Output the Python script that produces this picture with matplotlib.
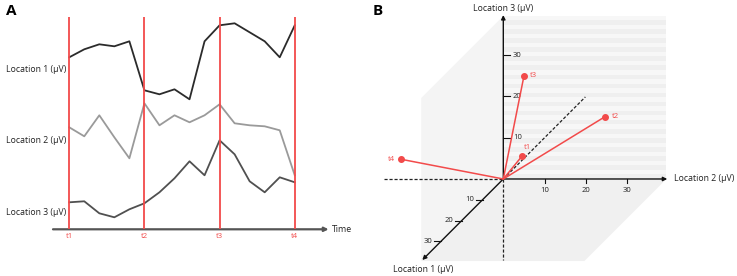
import matplotlib
matplotlib.use("Agg")
import matplotlib.pyplot as plt
import numpy as np

plt.rcParams['font.family'] = ['Open Sans', 'DejaVu Sans']

# ---------------- data ----------------
time_idx = list(range(16))
loc1 = [12, 20, 25, 23, 28, -21, -25, -20, -30, 28, 44, 46, 37, 28, 12, 44]
loc2 = [13, 4, 25, 3, -18, 37, 15, 25, 18, 25, 36, 17, 15, 14, 10, -35]
loc3 = [10, 11, -1, -5, 3, 9, 20, 34, 51, 37, 72, 58, 31, 20, 35, 30]
trace_labels = ["Location 1 (μV)", "Location 2 (μV)", "Location 3 (μV)"]
trace_offsets = [160, 89, 17]
t_names = ["t1", "t2", "t3", "t4"]
t_index = [0, 5, 10, 15]

# 3D state vectors (Location 1, Location 2, Location 3) in μV
pts_l1 = [-5, -5, -5, 5]
pts_l2 = [2, 22, 2.5, -22.3]
pts_l3 = [3, 12.5, 22.5, 7.3]
axis_ticks = [10, 20, 30]

RED = "#f24a4a"

fig = plt.figure(figsize=(7.37, 2.76), dpi=100)
W, H = 737, 276

# ---------------- Panel A ----------------
axA = fig.add_axes([53 / W, 46.7 / H, 278 / W, (229.3 - 17) / H])
axA.set_xlim(-1.08, 17.41)
axA.set_ylim(0, 212.3)
axA.axis('off')

colors = ["#2b2b2b", "#9a9a9a", "#505050"]
for vals, off, c in zip([loc1, loc2, loc3], trace_offsets, colors):
    axA.plot(time_idx, np.array(vals) + off, color=c, lw=1.3, zorder=3)

for name, ti in zip(t_names, t_index):
    axA.plot([ti, ti], [0, 212.3], color=RED, lw=1.3, zorder=4, solid_capstyle='butt')
    axA.annotate(name, (ti, 0), xytext=(0, -2.5), textcoords='offset points',
                 ha='center', va='top', color=RED, fontsize=5.5)

axA.annotate('', xy=(17.25, 0), xytext=(-1.08, 0),
             arrowprops=dict(arrowstyle='-|>', color='#555555', lw=1.6,
                             mutation_scale=6, shrinkA=0, shrinkB=0), zorder=2)
axA.text(17.5, 0, "Time", ha='left', va='center', fontsize=6.3, color='#222222')

for lab, off in zip(trace_labels, trace_offsets):
    axA.text(6 / W, off, lab, transform=matplotlib.transforms.blended_transform_factory(fig.transFigure, axA.transData),
             ha='left', va='center', fontsize=6.3, color='#222222')

fig.text(6 / W, 1 - 11 / H, "A", fontsize=11, fontweight='bold', ha='left', va='center')
fig.text(373 / W, 1 - 11 / H, "B", fontsize=11, fontweight='bold', ha='left', va='center')

# ---------------- Panel B ----------------
axB = fig.add_axes([370 / W, 0, 367 / W, 1])
axB.set_xlim(-32.28, 56.59)
axB.set_ylim(-23.49, 43.34)
axB.axis('off')

D = 0.503


def proj(l1, l2, l3):
    return l2 - D * np.asarray(l1), l3 - D * np.asarray(l1)


S = 39.5
# left wall (Location 1 / Location 3 plane)
p = [proj(0, 0, 0), proj(0, 0, S), proj(S, 0, S), proj(S, 0, 0)]
axB.fill([q[0] for q in p], [q[1] for q in p], color='#f4f4f4', lw=0, zorder=0)
# floor (Location 1 / Location 2 plane)
p = [proj(0, 0, 0), proj(0, S, 0), proj(S, S, 0), proj(S, 0, 0)]
axB.fill([q[0] for q in p], [q[1] for q in p], color='#f0f0f0', lw=0, zorder=0)
# back wall, striped
band = 1.1
z = 0.0
k = 0
while z < S:
    z2 = min(z + band, S)
    axB.fill([0, S, S, 0], [z, z, z2, z2], color='#efefef' if k % 2 == 0 else '#f7f7f7', lw=0, zorder=0.5)
    z = z2
    k += 1

# dashed negative axes
axB.plot([-29, 0], [0, 0], ls=(0, (2.5, 1.5)), color='#222222', lw=0.9, zorder=2)
axB.plot([0, 0], [0, -19.6], ls=(0, (2.5, 1.5)), color='#222222', lw=0.9, zorder=2)
x1, y1 = proj(-39.5, 0, 0)
axB.plot([0, x1], [0, y1], ls=(0, (2.5, 1.5)), color='#222222', lw=0.9, zorder=2)

arrow_kw = dict(arrowstyle='-|>', color='#111111', lw=1.0, mutation_scale=6, shrinkA=0, shrinkB=0)
axB.annotate('', xy=proj(0, 39.7, 0), xytext=(0, 0), arrowprops=arrow_kw, zorder=3)
axB.annotate('', xy=proj(0, 0, 39.7), xytext=(0, 0), arrowprops=arrow_kw, zorder=3)
axB.annotate('', xy=proj(39.0, 0, 0), xytext=(0, 0), arrowprops=arrow_kw, zorder=3)

for t in axis_ticks:
    # Location 2 ticks (down)
    axB.plot([t, t], [0, -1.0], color='#111111', lw=0.8, zorder=3)
    axB.text(t, -1.9, str(t), ha='center', va='top', fontsize=5.5, color='#222222')
    # Location 3 ticks (right)
    axB.plot([0, 1.6], [t, t], color='#111111', lw=0.8, zorder=3)
    axB.text(2.3, t, str(t), ha='left', va='center', fontsize=5.5, color='#222222')
    # Location 1 ticks (left)
    tx, ty = proj(t, 0, 0)
    axB.plot([tx - 1.6, tx], [ty, ty], color='#111111', lw=0.8, zorder=3)
    axB.text(tx - 2.0, ty, str(t), ha='right', va='center', fontsize=5.5, color='#222222')

axB.text(0, 41.3, "Location 3 (μV)", ha='center', va='center', fontsize=6.3, color='#222222')
axB.text(41.3, 0, "Location 2 (μV)", ha='left', va='center', fontsize=6.3, color='#222222')
lx, ly = proj(39, 0, 0)
axB.text(lx + 0.2, ly - 2.2, "Location 1 (μV)", ha='center', va='center', fontsize=6.3, color='#222222')

# state vectors
px, py = proj(pts_l1, pts_l2, pts_l3)
label_off = [(1, 6), (5, 0), (4, 0), (-4, 0)]
label_ha = ['left', 'left', 'left', 'right']
for name, x, y, off, ha in zip(t_names, px, py, label_off, label_ha):
    axB.plot([0, x], [0, y], color=RED, lw=1.1, zorder=4)
    axB.plot(x, y, 'o', color=RED, ms=4, zorder=5)
    axB.annotate(name, (x, y), xytext=off, textcoords='offset points', ha=ha,
                 va='center', color=RED, fontsize=5.5)

fig.savefig("out.png", dpi=100)
